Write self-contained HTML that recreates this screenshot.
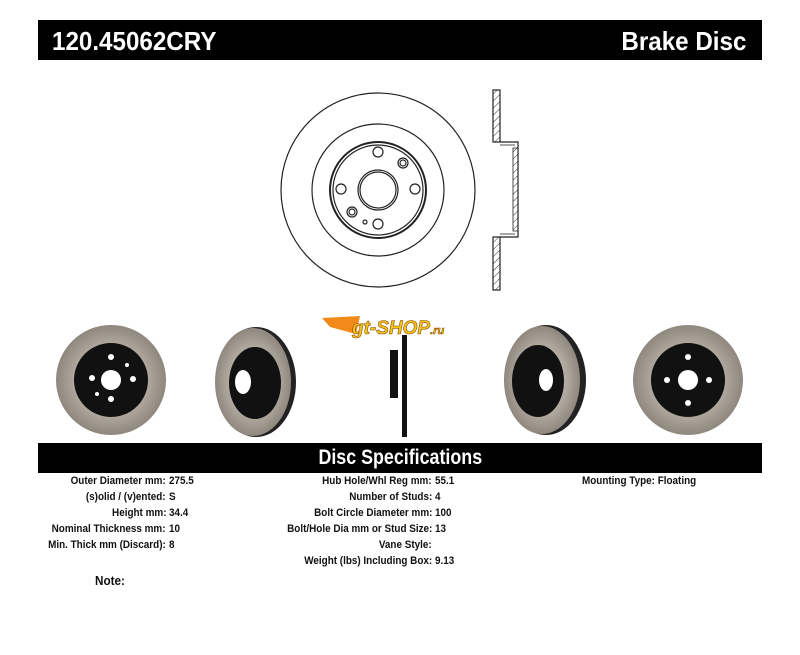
<!DOCTYPE html>
<html><head><style>
body{margin:0;width:800px;height:655px;background:#fff;position:relative;font-family:"Liberation Sans",Arial,sans-serif;overflow:hidden}
.bar{position:absolute;left:38px;width:724px;background:#000;color:#fff;font-weight:bold}
.t{position:absolute;font-size:11px;font-weight:bold;color:#111;white-space:nowrap;transform:scaleX(.9)}
.r{transform-origin:right;text-align:right}
.l{transform-origin:left}
</style></head><body>
<div class="bar" style="top:20px;height:40px">
<span style="position:absolute;left:14px;top:6px;font-size:26px;transform:scaleX(.93);transform-origin:left">120.45062CRY</span>
<span style="position:absolute;right:16px;top:6px;font-size:26px;transform:scaleX(.93);transform-origin:right">Brake Disc</span>
</div>
<svg width="800" height="655" style="position:absolute;left:0;top:0" fill="none" stroke="#222" stroke-width="1.2">
<defs><pattern id="h" width="5" height="5" patternUnits="userSpaceOnUse" patternTransform="rotate(45)"><line x1="0" y1="0" x2="0" y2="5" stroke="#333" stroke-width="1"/></pattern>
<radialGradient id="g"><stop offset="0.6" stop-color="#b5aea4"/><stop offset="1" stop-color="#8e877e"/></radialGradient></defs>
<circle cx="378" cy="190" r="97"/><circle cx="378" cy="190" r="66"/>
<circle cx="378" cy="190" r="48" stroke-width="2"/><circle cx="378" cy="190" r="45"/>
<circle cx="378" cy="190" r="20"/><circle cx="378" cy="190" r="18"/>
<circle cx="378" cy="152" r="5"/><circle cx="341" cy="189" r="5"/><circle cx="415" cy="189" r="5"/><circle cx="378" cy="224" r="5"/>
<circle cx="403" cy="163" r="5"/><circle cx="403" cy="163" r="3"/><circle cx="352" cy="212" r="5"/><circle cx="352" cy="212" r="3"/><circle cx="365" cy="222" r="2"/>
<rect x="493" y="90" width="7" height="52" fill="url(#h)"/><rect x="493" y="237" width="7" height="53" fill="url(#h)"/>
<path d="M500 142H518V237H500"/><rect x="513" y="148" width="5" height="83" fill="url(#h)" stroke-width=".8"/><path d="M500 145H515" stroke-width=".8"/><path d="M500 234H515" stroke-width=".8"/>
<g stroke="none">
<circle cx="111" cy="380" r="55" fill="url(#g)"/><circle cx="111" cy="380" r="37" fill="#111"/><circle cx="111" cy="380" r="10" fill="#fff"/>
<circle cx="111" cy="357" r="3" fill="#fff"/><circle cx="92" cy="378" r="3" fill="#fff"/><circle cx="133" cy="379" r="3" fill="#fff"/><circle cx="111" cy="399" r="3" fill="#fff"/><circle cx="127" cy="365" r="2" fill="#fff"/><circle cx="97" cy="394" r="2" fill="#fff"/>
<ellipse cx="256" cy="382" rx="40" ry="55" fill="#222"/><ellipse cx="253" cy="382" rx="38" ry="54" fill="url(#g)"/><ellipse cx="255" cy="383" rx="26" ry="36" fill="#111"/><ellipse cx="243" cy="382" rx="8" ry="12" fill="#fff"/>
<rect x="390" y="350" width="8" height="48" fill="#111"/><rect x="402" y="335" width="5" height="102" fill="#111"/>
<ellipse cx="546" cy="380" rx="40" ry="55" fill="#222"/><ellipse cx="542" cy="380" rx="38" ry="54" fill="url(#g)"/><ellipse cx="538" cy="381" rx="26" ry="36" fill="#111"/><ellipse cx="546" cy="380" rx="7" ry="11" fill="#fff"/>
<circle cx="688" cy="380" r="55" fill="url(#g)"/><circle cx="688" cy="380" r="37" fill="#111"/><circle cx="688" cy="380" r="10" fill="#fff"/>
<circle cx="688" cy="357" r="3" fill="#fff"/><circle cx="667" cy="380" r="3" fill="#fff"/><circle cx="709" cy="380" r="3" fill="#fff"/><circle cx="688" cy="403" r="3" fill="#fff"/>
<path d="M322 318L360 316L356 334L330 327Z" fill="#f28a1a"/>
</g>
<text x="352" y="334" font-family="Liberation Sans" font-weight="bold" font-style="italic" font-size="19" fill="#f6c51c" stroke="#8a4a00" stroke-width=".6">gt-SHOP<tspan font-size="11">.ru</tspan></text>
</svg>
<div class="bar" style="top:443px;height:30px;text-align:center;font-size:21px;line-height:30px"><span style="display:inline-block;transform:scaleX(.85)">Disc Specifications</span></div>

<div class="t r" style="right:634px;top:475px">Outer Diameter mm:</div><div class="t l" style="left:169px;top:475px">275.5</div>
<div class="t r" style="right:634px;top:491px">(s)olid / (v)ented:</div><div class="t l" style="left:169px;top:491px">S</div>
<div class="t r" style="right:634px;top:507px">Height mm:</div><div class="t l" style="left:169px;top:507px">34.4</div>
<div class="t r" style="right:634px;top:523px">Nominal Thickness mm:</div><div class="t l" style="left:169px;top:523px">10</div>
<div class="t r" style="right:634px;top:539px">Min. Thick mm (Discard):</div><div class="t l" style="left:169px;top:539px">8</div>
<div class="t l" style="left:95px;top:573px;font-size:13px">Note:</div>

<div class="t r" style="right:368px;top:475px">Hub Hole/Whl Reg mm:</div><div class="t l" style="left:435px;top:475px">55.1</div>
<div class="t r" style="right:368px;top:491px">Number of Studs:</div><div class="t l" style="left:435px;top:491px">4</div>
<div class="t r" style="right:368px;top:507px">Bolt Circle Diameter mm:</div><div class="t l" style="left:435px;top:507px">100</div>
<div class="t r" style="right:368px;top:523px">Bolt/Hole Dia mm or Stud Size:</div><div class="t l" style="left:435px;top:523px">13</div>
<div class="t r" style="right:368px;top:539px">Vane Style:</div>
<div class="t r" style="right:368px;top:555px">Weight (lbs) Including Box:</div><div class="t l" style="left:435px;top:555px">9.13</div>
<div class="t l" style="left:582px;top:475px">Mounting Type: Floating</div>
</body></html>
